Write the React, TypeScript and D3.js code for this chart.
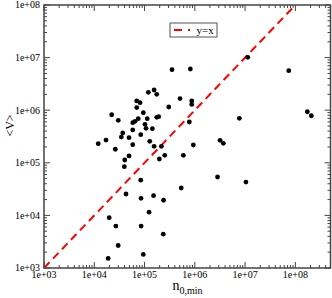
import React from "react";
import { scaleLog, range } from "d3";

// n_{0,min} for each point
const nMin = [
  1.19e5, 1.55e5, 1.75e5, 5.08e5, 6.98e4, 8.13e4, 7.0e4, 3.03e5, 9.46e4, 2.22e4,
  3.0e4, 7.5e4, 1.13e5, 1.75e5, 1.91e5, 5.82e4, 6.47e4, 1.02e5, 1.07e5, 1.43e5,
  5.82e4, 3.68e4, 3.45e4, 8.4e4, 4.91e4, 1.71e4, 1.2e4, 5.82e4, 1.27e5, 1.55e5,
  2.16e5, 2.62e4, 4.91e4, 4.04e4, 3.96e4, 2.52e5, 1.97e5, 5.92e5, 7.78e5, 3.52e5,
  8.15e5, 1.13e7, 7.39e7, 8.69e5, 8.69e5, 7.69e6, 1.73e8, 2.08e8, 9.35e5, 3.18e6,
  3.69e6, 2.83e6, 1.04e7, 5.37e5, 8.4e4, 4.28e4, 8.51e4, 1.51e5, 2.39e5, 1.23e5,
  1.98e4, 2.69e4, 8.55e4, 2.36e5, 2.99e4, 1.89e4, 9.46e4
];

// <V> for each point
const meanV = [
  2.19e6, 2.42e6, 2.0e6, 1.66e6, 1.5e6, 1.39e6, 1.12e6, 1.15e6, 8.95e5, 8.2e5,
  6.43e5, 6.89e5, 6.89e5, 7.33e5, 7.52e5, 5.78e5, 6.15e5, 5.39e5, 4.53e5, 4.45e5,
  4.21e5, 3.69e5, 3.09e5, 3.42e5, 3.0e5, 2.71e5, 2.31e5, 2.21e5, 2.56e5, 2.06e5,
  2.06e5, 1.81e5, 1.35e5, 1.13e5, 8.43e4, 1.39e5, 1.18e5, 1.39e5, 5.97e5, 5.89e6,
  6.07e6, 1.01e7, 5.64e6, 1.5e6, 1.29e6, 7.02e5, 9.35e5, 7.85e5, 2.18e5, 2.68e5,
  2.35e5, 5.37e4, 4.31e4, 3.32e4, 4.67e4, 2.55e4, 2.11e4, 2.37e4, 1.94e4, 1.15e4,
  9.04e3, 6.28e3, 6.28e3, 4.4e3, 2.68e3, 1.52e3, 1.81e3
];

const xDecades = [1e3, 1e4, 1e5, 1e6, 1e7, 1e8];
const xTickLabels = ["1e+03", "1e+04", "1e+05", "1e+06", "1e+07", "1e+08"];
const yDecades = [1e3, 1e4, 1e5, 1e6, 1e7, 1e8];
const yTickLabels = ["1e+03", "1e+04", "1e+05", "1e+06", "1e+07", "1e+08"];

const W = 332;
const H = 298;
const LEFT = 44;
const RIGHT = 330.5;
const TOP = 5;
const BOTTOM = 268;

const minorTicks = (lo: number, hi: number) => {
  const out: number[] = [];
  for (let d = lo; d < hi; d *= 10) {
    range(2, 10).forEach(k => {
      if (d * k <= hi) out.push(d * k);
    });
  }
  return out;
};

export default function App() {
  const x = scaleLog().domain([1e3, 5e8]).range([LEFT, RIGHT]);
  const y = scaleLog().domain([1e3, 1e8]).range([BOTTOM, TOP]);

  const xMinor = minorTicks(1e3, 5e8);
  const yMinor = minorTicks(1e3, 1e8);
  const axisColor = "#444";
  const font = "'Liberation Serif', 'Times New Roman', serif";

  return (
    <div style={{ position: "absolute", left: 0, top: 0 }}>
      <svg width={W} height={H} fontFamily={font}>
        <rect width={W} height={H} fill="white" />
        <defs>
          <clipPath id="plot">
            <rect x={LEFT} y={TOP} width={RIGHT - LEFT} height={BOTTOM - TOP} />
          </clipPath>
        </defs>

        {/* diagonal y = x */}
        <line
          x1={x(1e3)}
          y1={y(1e3)}
          x2={x(1e8)}
          y2={y(1e8)}
          stroke="#ff0000"
          strokeWidth={2}
          strokeDasharray="8,5"
          clipPath="url(#plot)"
        />

        {/* points */}
        <g clipPath="url(#plot)">
          {nMin.map((v, i) => (
            <circle key={i} cx={x(v)} cy={y(meanV[i])} r={2.4} fill="black" />
          ))}
        </g>

        {/* ticks, inward on all four sides */}
        <g stroke={axisColor} strokeWidth={1}>
          {xDecades.map(v => (
            <g key={"xM" + v}>
              <line x1={x(v)} x2={x(v)} y1={BOTTOM} y2={BOTTOM - 6} />
              <line x1={x(v)} x2={x(v)} y1={TOP} y2={TOP + 6} />
            </g>
          ))}
          {xMinor.map(v => (
            <g key={"xm" + v}>
              <line x1={x(v)} x2={x(v)} y1={BOTTOM} y2={BOTTOM - 3} />
              <line x1={x(v)} x2={x(v)} y1={TOP} y2={TOP + 3} />
            </g>
          ))}
          {yDecades.map(v => (
            <g key={"yM" + v}>
              <line x1={LEFT} x2={LEFT + 6} y1={y(v)} y2={y(v)} />
              <line x1={RIGHT} x2={RIGHT - 6} y1={y(v)} y2={y(v)} />
            </g>
          ))}
          {yMinor.map(v => (
            <g key={"ym" + v}>
              <line x1={LEFT} x2={LEFT + 3} y1={y(v)} y2={y(v)} />
              <line x1={RIGHT} x2={RIGHT - 3} y1={y(v)} y2={y(v)} />
            </g>
          ))}
        </g>

        <rect
          x={LEFT}
          y={TOP}
          width={RIGHT - LEFT}
          height={BOTTOM - TOP}
          fill="none"
          stroke={axisColor}
          strokeWidth={1.5}
        />

        {/* tick labels */}
        <g fontSize={10} fill="black">
          {xDecades.map((v, i) => (
            <text key={"xl" + v} x={x(v)} y={277.5} textAnchor="middle">
              {xTickLabels[i]}
            </text>
          ))}
          {yDecades.map((v, i) => (
            <text key={"yl" + v} x={40} y={y(v)} dy="0.33em" textAnchor="end">
              {yTickLabels[i]}
            </text>
          ))}
        </g>

        {/* axis titles */}
        <text
          transform="translate(13.5,125.5) rotate(-90)"
          textAnchor="middle"
          fontSize={12}
        >
          {"<V>"}
        </text>
        <text x={172.5} y={289.5} fontSize={14}>
          n
          <tspan fontSize={10} dy={4.5}>
            0,min
          </tspan>
        </text>

        {/* legend */}
        <rect x={170} y={23} width={47} height={14} fill="white" stroke="#555" strokeWidth={1} />
        <line x1={174} x2={190} y1={30} y2={30} stroke="#ff0000" strokeWidth={2} strokeDasharray="8,6" />
        <text x={196.5} y={33.8} fontSize={11}>
          y=x
        </text>
      </svg>
    </div>
  );
}
